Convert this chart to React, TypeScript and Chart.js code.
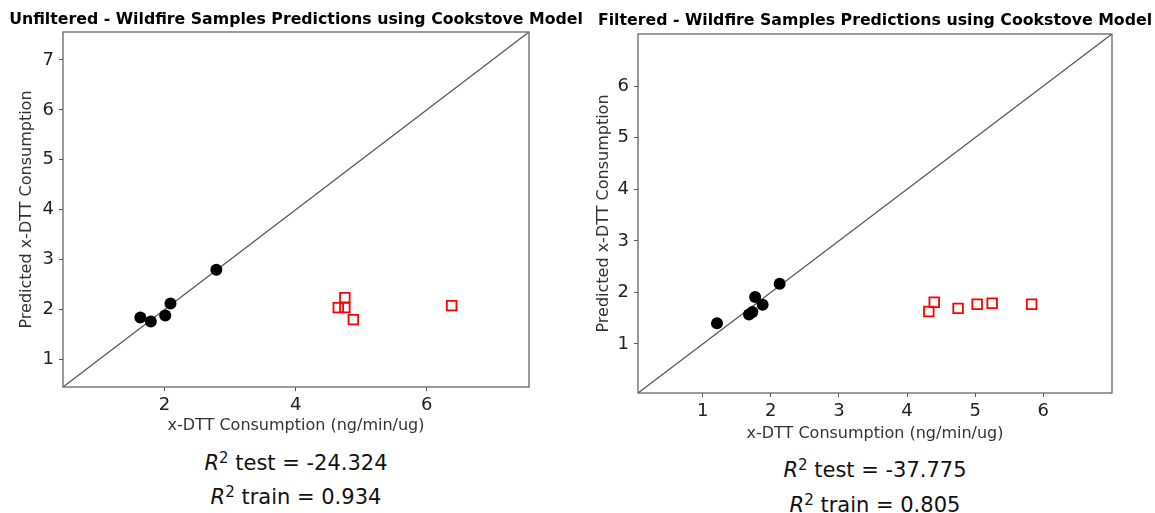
import React, { useEffect, useRef } from "react";
import { Chart, registerables } from "chart.js";

Chart.register(...registerables);

// ---------- data ----------
const LEFT_TITLE = "Unfiltered - Wildfire Samples Predictions using Cookstove Model";
const RIGHT_TITLE = "Filtered - Wildfire Samples Predictions using Cookstove Model";
const X_LABEL = "x-DTT Consumption (ng/min/ug)";
const Y_LABEL = "Predicted x-DTT Consumption";

const LEFT_LIMITS = [0.45, 7.56];
const LEFT_X_TICKS = [2, 4, 6];
const LEFT_Y_TICKS = [1, 2, 3, 4, 5, 6, 7];
const LEFT_TRAIN_ACTUAL = [1.63, 1.79, 2.01, 2.09, 2.79];
const LEFT_TRAIN_PRED = [1.84, 1.76, 1.88, 2.12, 2.8];
const LEFT_TEST_ACTUAL = [4.65, 4.75, 4.75, 4.88, 6.38];
const LEFT_TEST_PRED = [2.04, 2.24, 2.04, 1.8, 2.08];
const LEFT_R2_TEST = "-24.324";
const LEFT_R2_TRAIN = "0.934";

const RIGHT_LIMITS = [0.05, 7.01];
const RIGHT_X_TICKS = [1, 2, 3, 4, 5, 6];
const RIGHT_Y_TICKS = [1, 2, 3, 4, 5, 6];
const RIGHT_TRAIN_ACTUAL = [1.21, 1.68, 1.73, 1.77, 1.88, 2.13];
const RIGHT_TRAIN_PRED = [1.4, 1.57, 1.62, 1.91, 1.76, 2.17];
const RIGHT_TEST_ACTUAL = [4.32, 4.4, 4.75, 5.03, 5.25, 5.83];
const RIGHT_TEST_PRED = [1.63, 1.81, 1.69, 1.77, 1.79, 1.77];
const RIGHT_R2_TEST = "-37.775";
const RIGHT_R2_TRAIN = "0.805";

const FONT = "'DejaVu Sans', sans-serif";

const framePlugin = {
  id: "frame",
  afterDatasetsDraw(chart: any) {
    const { ctx, chartArea } = chart;
    ctx.save();
    ctx.strokeStyle = "#666";
    ctx.lineWidth = 1.3;
    ctx.strokeRect(chartArea.left, chartArea.top, chartArea.right - chartArea.left, chartArea.bottom - chartArea.top);
    ctx.restore();
  },
};

const titleTextPlugin = {
  id: "titleText",
  afterDraw(chart: any, _args: any, opts: any) {
    const { ctx, chartArea } = chart;
    ctx.save();
    ctx.font = "bold 15.75px " + FONT;
    ctx.fillStyle = "#000";
    ctx.textAlign = "center";
    ctx.textBaseline = "middle";
    ctx.fillText(opts.text, (chartArea.left + chartArea.right) / 2, opts.y);
    ctx.restore();
  },
};

type PanelProps = {
  left: number;
  width: number;
  height: number;
  title: string;
  titleY: number;
  plotTop: number;
  axisLeftWidth: number;
  axisBottomHeight: number;
  padRight: number;
  yTitlePad: number;
  xTitlePad: number;
  limits: number[];
  xTicks: number[];
  yTicks: number[];
  trainX: number[];
  trainY: number[];
  testX: number[];
  testY: number[];
};

function Panel(p: PanelProps) {
  const ref = useRef<HTMLCanvasElement | null>(null);
  useEffect(() => {
    if (!ref.current) return;
    const [lo, hi] = p.limits;
    const tickFont = { family: FONT, size: 18 };
    const chart = new Chart(ref.current, {
      type: "scatter",
      data: {
        datasets: [
          {
            label: "train",
            data: p.trainX.map((x, i) => ({ x, y: p.trainY[i] })),
            pointStyle: "circle",
            pointRadius: 6,
            pointBackgroundColor: "#000",
            pointBorderColor: "#000",
            pointBorderWidth: 0,
            showLine: false,
          },
          {
            label: "test",
            data: p.testX.map((x, i) => ({ x, y: p.testY[i] })),
            pointStyle: "rect",
            pointRadius: 6.8,
            pointBackgroundColor: "rgba(0,0,0,0)",
            pointBorderColor: "#ff0000",
            pointBorderWidth: 1.8,
            showLine: false,
          },
          {
            label: "identity",
            type: "line",
            data: [
              { x: lo, y: lo },
              { x: hi, y: hi },
            ],
            borderColor: "#555",
            borderWidth: 1.3,
            pointRadius: 0,
            fill: false,
          } as any,
        ],
      },
      options: {
        animation: false,
        responsive: false,
        events: [],
        layout: { padding: { left: 0, right: p.padRight, top: p.plotTop, bottom: 0 } },
        plugins: {
          legend: { display: false },
          tooltip: { enabled: false },
          title: { display: false },
          titleText: { text: p.title, y: p.titleY },
        } as any,
        scales: {
          x: {
            type: "linear",
            min: lo,
            max: hi,
            afterBuildTicks: (s: any) => {
              s.ticks = p.xTicks.map((v) => ({ value: v }));
            },
            afterFit: (s: any) => {
              s.height = p.axisBottomHeight;
            },
            grid: { display: true, drawOnChartArea: false, drawTicks: true, tickLength: 4, color: "#555" },
            border: { display: false },
            ticks: { color: "#222", font: tickFont, padding: 4, maxRotation: 0, autoSkip: false },
            title: {
              display: true,
              text: X_LABEL,
              color: "#333",
              font: { family: FONT, size: 16 },
              padding: { top: 0, bottom: p.xTitlePad },
            },
          },
          y: {
            type: "linear",
            min: lo,
            max: hi,
            afterBuildTicks: (s: any) => {
              s.ticks = p.yTicks.map((v) => ({ value: v }));
            },
            afterFit: (s: any) => {
              s.width = p.axisLeftWidth;
            },
            grid: { display: true, drawOnChartArea: false, drawTicks: true, tickLength: 4, color: "#555" },
            border: { display: false },
            ticks: { color: "#222", font: tickFont, padding: 5, autoSkip: false },
            title: {
              display: true,
              text: Y_LABEL,
              color: "#333",
              font: { family: FONT, size: 16 },
              padding: { top: p.yTitlePad, bottom: 0 },
            },
          },
        },
      },
      plugins: [framePlugin, titleTextPlugin],
    });
    return () => chart.destroy();
  }, []);
  return (
    <canvas
      ref={ref}
      width={p.width}
      height={p.height}
      style={{ position: "absolute", left: p.left, top: 0, width: p.width, height: p.height }}
    />
  );
}

function R2Line({ cx, cy, label, value }: { cx: number; cy: number; label: string; value: string }) {
  return (
    <div
      style={{
        position: "absolute",
        left: cx - 150,
        width: 300,
        top: cy - 14,
        height: 28,
        lineHeight: "28px",
        textAlign: "center",
        fontFamily: FONT,
        fontSize: 21,
        color: "#111",
        whiteSpace: "nowrap",
      }}
    >
      <span style={{ fontStyle: "italic" }}>R</span>
      <sup style={{ fontSize: 15, verticalAlign: "7px", lineHeight: 0 }}>2</sup>
      {" " + label + " = " + value}
    </div>
  );
}

export default function App() {
  return (
    <div
      style={{
        position: "absolute",
        left: 0,
        top: 0,
        width: 1155,
        height: 513,
        overflow: "hidden",
        background: "#fff",
      }}
    >
      <Panel
        left={0}
        width={592}
        height={445}
        title={LEFT_TITLE}
        titleY={20}
        plotTop={32}
        axisLeftWidth={63}
        axisBottomHeight={58}
        padRight={63}
        yTitlePad={17.4}
        xTitlePad={9.4}
        limits={LEFT_LIMITS}
        xTicks={LEFT_X_TICKS}
        yTicks={LEFT_Y_TICKS}
        trainX={LEFT_TRAIN_ACTUAL}
        trainY={LEFT_TRAIN_PRED}
        testX={LEFT_TEST_ACTUAL}
        testY={LEFT_TEST_PRED}
      />
      <Panel
        left={592}
        width={566}
        height={445}
        title={RIGHT_TITLE}
        titleY={21}
        plotTop={34}
        axisLeftWidth={46}
        axisBottomHeight={52}
        padRight={46}
        yTitlePad={2.4}
        xTitlePad={1.4}
        limits={RIGHT_LIMITS}
        xTicks={RIGHT_X_TICKS}
        yTicks={RIGHT_Y_TICKS}
        trainX={RIGHT_TRAIN_ACTUAL}
        trainY={RIGHT_TRAIN_PRED}
        testX={RIGHT_TEST_ACTUAL}
        testY={RIGHT_TEST_PRED}
      />
      <R2Line cx={296} cy={463} label="test" value={LEFT_R2_TEST} />
      <R2Line cx={296} cy={497} label="train" value={LEFT_R2_TRAIN} />
      <R2Line cx={875} cy={470} label="test" value={RIGHT_R2_TEST} />
      <R2Line cx={875} cy={505} label="train" value={RIGHT_R2_TRAIN} />
    </div>
  );
}
